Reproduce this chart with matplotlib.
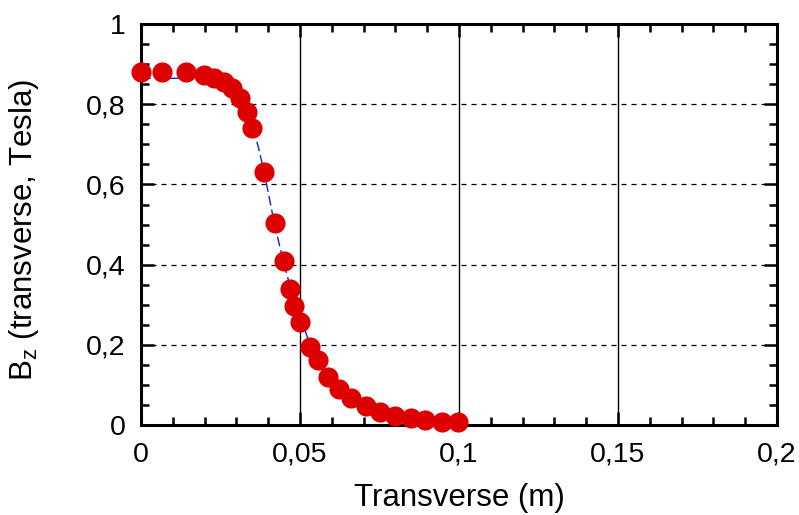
import matplotlib
matplotlib.use('Agg')
import matplotlib.pyplot as plt

plt.rcParams['font.family'] = ['Liberation Sans', 'DejaVu Sans']
plt.rcParams['mathtext.fontset'] = 'custom'
plt.rcParams['mathtext.rm'] = 'Liberation Sans'

# measured points (red circles)
x_meas = [0.0, 0.0066, 0.0142, 0.0199, 0.0230, 0.0262, 0.0287, 0.0312, 0.0334, 0.0350,
          0.0388, 0.0422, 0.0449, 0.0468, 0.0482, 0.0500, 0.0532, 0.0555, 0.0587, 0.0623,
          0.0659, 0.0708, 0.0750, 0.0798, 0.0850, 0.0894, 0.0948, 0.0997]
bz_meas = [0.881, 0.881, 0.880, 0.873, 0.866, 0.856, 0.840, 0.815, 0.780, 0.742,
           0.632, 0.505, 0.409, 0.338, 0.297, 0.258, 0.194, 0.162, 0.120, 0.089,
           0.067, 0.047, 0.033, 0.022, 0.017, 0.012, 0.008, 0.007]

# simulated curve (blue dashed)
x_sim = [0.0, 0.005, 0.010, 0.015, 0.020, 0.025, 0.029, 0.032, 0.035, 0.037, 0.039,
         0.042, 0.045, 0.0485, 0.051, 0.0535, 0.056, 0.059, 0.062, 0.066, 0.071,
         0.075, 0.080, 0.085, 0.090, 0.095, 0.100]
bz_sim = [0.865, 0.865, 0.865, 0.865, 0.864, 0.858, 0.838, 0.800, 0.750, 0.690, 0.620,
          0.500, 0.400, 0.300, 0.250, 0.190, 0.150, 0.115, 0.085, 0.062, 0.043,
          0.030, 0.020, 0.014, 0.009, 0.006, 0.004]

x_ticks = [0, 0.05, 0.1, 0.15, 0.2]
x_ticklabels = ['0', '0,05', '0,1', '0,15', '0,2']
y_ticks = [0, 0.2, 0.4, 0.6, 0.8, 1.0]
y_ticklabels = ['0', '0,2', '0,4', '0,6', '0,8', '1']

fig = plt.figure(figsize=(7.99, 5.15), dpi=100)
ax = fig.add_axes([0.1765, 0.175, 0.796, 0.778])

for xv in x_ticks[1:-1]:
    ax.axvline(xv, color='black', lw=1.0, zorder=1)
for yv in y_ticks[1:-1]:
    ax.axhline(yv, color='black', lw=0.9, ls=(0, (4, 4)), zorder=1)

ax.plot(x_sim, bz_sim, color='#1020e0', lw=1.0, ls=(0, (7, 3)), zorder=2)
ax.plot(x_meas, bz_meas, 'o', color='#dd0000', ms=14.5, mec='none', zorder=3, clip_on=False)

ax.set_xlim(0, 0.2)
ax.set_ylim(0, 1)
ax.set_xticks(x_ticks)
ax.set_xticklabels(x_ticklabels)
ax.set_yticks(y_ticks)
ax.set_yticklabels(y_ticklabels)
ax.set_xticks([i * 0.01 for i in range(21)], minor=True)
ax.set_yticks([i * 0.05 for i in range(21)], minor=True)

ax.tick_params(which='both', direction='in', top=True, right=True, width=1.8,
               labelsize=20.5, color='black')
ax.tick_params(which='major', length=9.5)
ax.tick_params(which='minor', length=6)
ax.tick_params(axis='x', which='major', pad=12)
ax.tick_params(axis='y', which='major', pad=11)
for s in ax.spines.values():
    s.set_linewidth(2.2)

ax.set_xlabel('Transverse (m)', fontsize=22.5)
ax.set_ylabel(r'B$_{\mathregular{z}}$ (transverse, Tesla)', fontsize=22.5)
ax.xaxis.set_label_coords(0.5, -0.145)
ax.yaxis.set_label_coords(-0.158, 0.486)

plt.savefig('out.png', dpi=100)
